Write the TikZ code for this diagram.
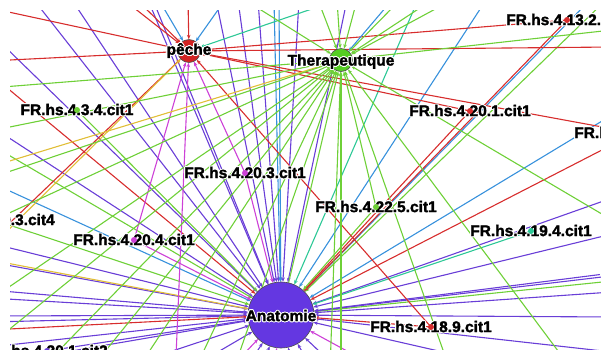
\documentclass[tikz,border=0pt]{standalone}
\usepackage{fontspec}
\setmainfont{Liberation Sans}
\newfontfamily\lblfont{Liberation Sans Bold}[FakeBold=1.8]
\usepackage[copies]{contour}
\contourlength{0.9pt}
\usetikzlibrary{arrows.meta,shapes}

\definecolor{cred}{RGB}{215,45,45}
\definecolor{cgrn}{RGB}{110,208,55}
\definecolor{cpur}{RGB}{105,62,215}
\definecolor{cblu}{RGB}{55,145,220}
\definecolor{ctea}{RGB}{45,200,150}
\definecolor{cmag}{RGB}{205,65,215}
\definecolor{cyel}{RGB}{225,190,55}
\definecolor{hred}{RGB}{210,35,35}
\definecolor{hgrn}{RGB}{85,205,35}
\definecolor{hpur}{RGB}{100,55,225}

\newcommand{\halo}[1]{\contour{white}{#1}}

\begin{document}
\begin{tikzpicture}[x=1pt,y=-1pt,
    hubshape/.style={circle,inner sep=0pt},
    hub/.style={circle,draw=black!70,line width=0.6pt,inner sep=0pt},
    cite/.style={circle,fill=#1,inner sep=0pt,minimum size=6pt},
    lbl/.style={font=\lblfont\fontsize{15.5}{16}\selectfont,inner sep=0pt},
    edge/.style={line width=1.1pt,-{Stealth[length=4.5pt,width=3.5pt]}}]

% Frame of the screenshot
\useasboundingbox (0,0) rectangle (601,349);
\clip (10,10) rectangle (601,349);

% Define the hubs
\path (189,51) node[hubshape,minimum size=23pt] (peche) {};
\path (341,60) node[hubshape,minimum size=23pt] (thera) {};
\path (281,315) node[hubshape,minimum size=66pt] (anat) {};

% Define the citations
\path (567,20) coordinate (c4132);
\path (470,111) coordinate (c4201);
\path (635,133) coordinate (cfrl);
\path (77,110) coordinate (c434);
\path (245,173) coordinate (c4203);
\path (376,207) coordinate (c4225);
\path (-6,220) coordinate (c3cit4);
\path (134,240) coordinate (c4204);
\path (531,231) coordinate (c4194);
\path (431,327) coordinate (c4189);
\path (661,270) coordinate (cbr);
\path (47,351) coordinate (cbl);
\path (-20,258) coordinate (cyl);

% Edges into Anatomie
\foreach \x/\y/\col [count=\i] in {-10/182/cblu, -10/243/cpur, -10/262/cpur,
    -10/290/cpur, -10/298/cpur, -10/316/cpur, -10/322/cpur, -10/330/cred,
    -10/347/cpur, -10/365/cpur, 0/42/cpur, 34/0/cpur, 72/0/cpur, 148/0/cpur,
    153/0/cpur, 0/82/cred, 0/132/cpur, 0/150/cgrn, 216/0/cpur, 238/0/cpur,
    258/0/cpur, 274/0/cblu, 279/0/cblu, 299/0/cpur, 347/0/cpur, 418/0/ctea,
    486/0/cblu, 590/0/cblu, 606/0/cgrn, 612/115/cblu, 612/198/cpur,
    612/234/cpur, 612/273/cpur, 612/281/cgrn, 612/292/cpur, 612/317/cpur,
    612/352/cpur, 500/365/cpur, 130/365/cpur, 170/380/cpur, 200/400/cmag,
    225/400/cpur, 250/400/cpur, 270/400/cmag, 300/400/cpur, 330/400/cpur,
    360/390/cpur, 400/380/cmag}{
  \path (\x,\y) coordinate (a\i);
  \draw[edge,color=\col] (a\i) -- (anat);
}
\draw[edge,color=cred] (c4132) -- (anat);
\draw[edge,color=cred] (c4201) -- (anat);
\draw[edge,color=cred] (cfrl) -- (anat);
\draw[edge,color=cred] (c4189) -- (anat);
\draw[edge,color=cgrn] (c434) -- (anat);
\draw[edge,color=cgrn] (c3cit4) -- (anat);
\draw[edge,color=cgrn] (c4225) -- (anat);
\draw[edge,color=cmag] (c4203) -- (anat);
\draw[edge,color=cmag] (c4204) -- (anat);
\draw[edge,color=ctea] (c4194) -- (anat);
\draw[edge,color=cpur] (cbr) -- (anat);
\draw[edge,color=cpur] (cbl) -- (anat);
\draw[edge,color=cyel] (cyl) -- (anat);

% Edges into peche
\foreach \x/\y/\col [count=\i] in {-10/8/cred, -10/61/cred, 124/0/cred,
    137/0/cred, 188/0/cred, 159/0/cblu, 225/0/cblu, 338/0/ctea, 612/47/cred,
    -10/242/cred, 175/380/cmag}{
  \path (\x,\y) coordinate (p\i);
  \draw[edge,color=\col] (p\i) -- (peche);
}
\draw[edge,color=cred] (c4132) -- (peche);
\draw[edge,color=cred] (c4201) -- (peche);
\draw[edge,color=cred] (cfrl) -- (peche);
\draw[edge,color=cred] (c4189) -- (peche);
\draw[edge,color=cmag] (c4204) -- (peche);
\draw[edge,color=cmag] (c4203) -- (peche);
\draw[edge,color=cyel] (cyl) -- (peche);

% Edges into Therapeutique
\foreach \x/\y/\col [count=\i] in {-10/88/cgrn, -10/131/cgrn, -10/167/cyel,
    -10/178/cgrn, -10/300/cgrn, -10/345/cgrn, 245/0/cgrn, 318/0/cgrn,
    337/0/cgrn, 357/0/cgrn, 392/0/cblu, 400/0/cgrn, 432/0/cgrn, 452/0/cgrn,
    612/30/cgrn, 612/220/cgrn, 570/367/cgrn, 450/370/cgrn, 330/370/cgrn,
    341/370/cgrn, 40/370/cgrn, 90/370/cgrn, 137/370/cgrn, 190/380/cgrn,
    230/380/cgrn}{
  \path (\x,\y) coordinate (t\i);
  \draw[edge,color=\col] (t\i) -- (thera);
}
\draw[edge,color=cgrn] (c3cit4) -- (thera);
\draw[edge,color=cgrn] (c4225) -- (thera);
\draw[edge,color=cgrn] (anat) -- (thera);

% Draw the hubs
\node[hub,fill=hred,minimum size=23pt] at (peche) {};
\node[hub,fill=hgrn,minimum size=23pt] at (thera) {};
\node[hub,fill=hpur,minimum size=66pt] at (anat) {};
\node[lbl] at (189,51) {\halo{pêche}};
\node[lbl] at (341,62) {\halo{Therapeutique}};
\node[lbl] at (281,316) {\halo{Anatomie}};

% Citation labels and dots
\foreach \p/\t/\col in {c4132/FR.hs.4.13.2.cit1/cred, c4201/FR.hs.4.20.1.cit1/cred,
    cfrl/FR.hs.4.21.2.cit1/cred, c434/FR.hs.4.3.4.cit1/cgrn,
    c4203/FR.hs.4.20.3.cit1/cmag, c4225/FR.hs.4.22.5.cit1/cgrn,
    c3cit4/FR.hs.4.20.3.cit4/cgrn, c4204/FR.hs.4.20.4.cit1/cmag,
    c4194/FR.hs.4.19.4.cit1/ctea, c4189/FR.hs.4.18.9.cit1/cred,
    cbr/FR.hs.4.19.5.cit1/cpur, cbl/FR.hs.4.20.1.cit2/cpur}{
  \node[lbl] at (\p) {\halo{\t}};
  \node[cite=\col] at (\p) {};
}
\end{tikzpicture}
\end{document}
